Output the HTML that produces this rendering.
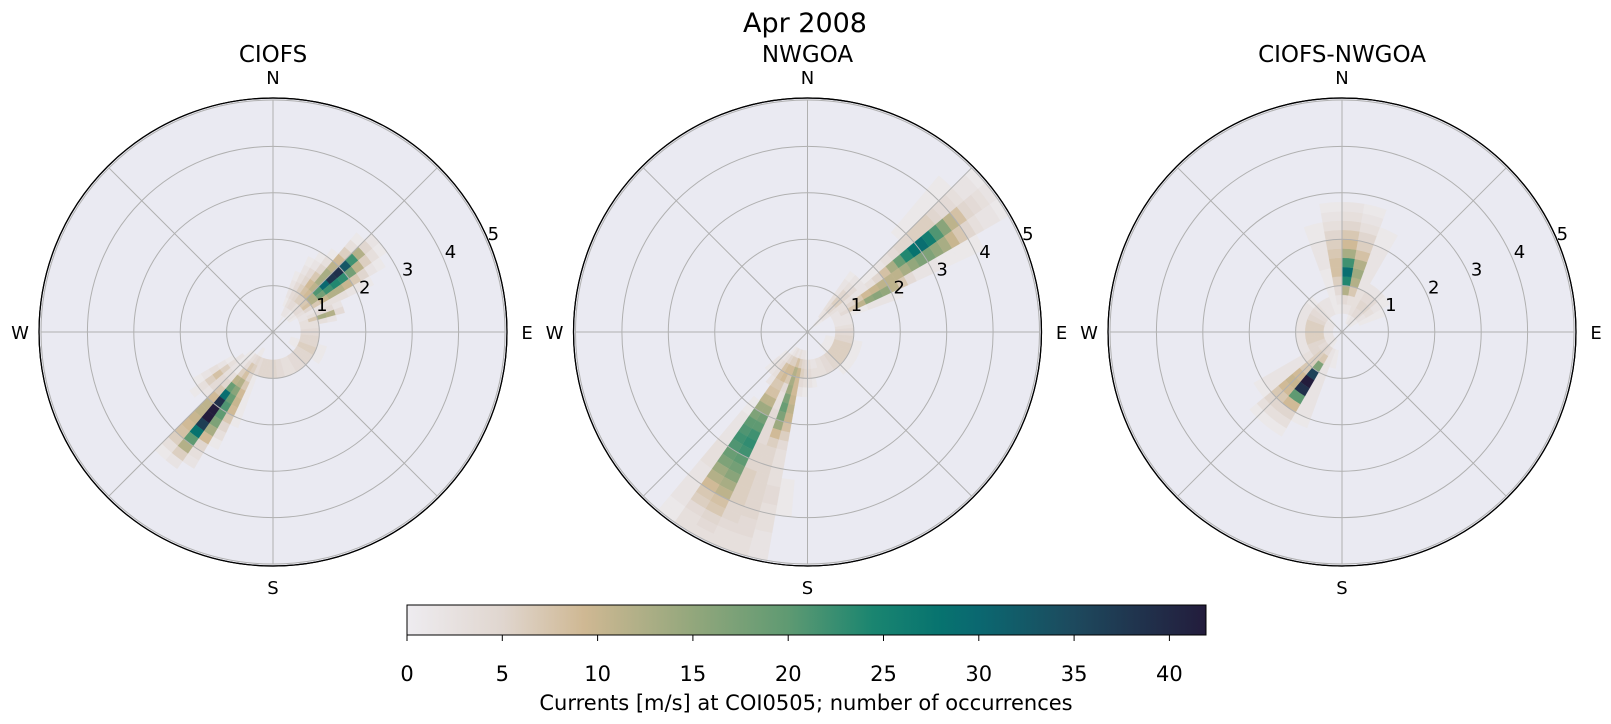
<!DOCTYPE html>
<html><head><meta charset="utf-8"><style>
html,body{margin:0;padding:0;background:#fff;}
svg{display:block;font-family:"DejaVu Sans","Liberation Sans",sans-serif;}
</style></head><body>
<svg id="s" width="1611" height="724" viewBox="0 0 1611 724" xmlns="http://www.w3.org/2000/svg">
<defs>
<linearGradient id="cb" x1="0" x2="1" y1="0" y2="0">
<stop offset="0" stop-color="#eeecf0"/>
<stop offset="0.119" stop-color="#e0d6cf"/>
<stop offset="0.222" stop-color="#cfb893"/>
<stop offset="0.357" stop-color="#93a77c"/>
<stop offset="0.476" stop-color="#5f9a72"/>
<stop offset="0.583" stop-color="#1a8570"/>
<stop offset="0.667" stop-color="#07736f"/>
<stop offset="0.714" stop-color="#0a6870"/>
<stop offset="0.833" stop-color="#1d4a5e"/>
<stop offset="1" stop-color="#231c3c"/>
</linearGradient>
</defs>
<text x="805" y="32" font-size="27" text-anchor="middle">Apr 2008</text>
<g id="plots"></g>
<rect x="407" y="605" width="799" height="30" fill="url(#cb)" stroke="#000" stroke-width="1"/>
<g id="cbt" font-size="21" text-anchor="middle"></g>
<text x="806" y="710" font-size="21" text-anchor="middle">Currents [m/s] at COI0505; number of occurrences</text>
</svg>
<script>
var NS="http://www.w3.org/2000/svg";
var stops=[[0,[238,236,240]],[5,[224,214,207]],[9.3,[207,184,147]],[15,[147,167,124]],[20,[95,154,114]],[24.5,[26,133,112]],[28,[7,115,111]],[30,[10,104,112]],[35,[29,74,94]],[42,[35,28,60]]];
function cmap(v){if(v>=42)v=42;for(var i=1;i<stops.length;i++){if(v<=stops[i][0]){var a=stops[i-1],b=stops[i],t=(v-a[0])/(b[0]-a[0]);return "rgb("+[0,1,2].map(function(k){return Math.round(a[1][k]+(b[1][k]-a[1][k])*t)}).join(",")+")";}}return "rgb(35,28,60)";}
var g=document.getElementById("plots");
function el(n,at,p,txt){var e=document.createElementNS(NS,n);for(var k in at)e.setAttribute(k,at[k]);if(txt!==undefined)e.textContent=txt;(p||g).appendChild(e);return e;}
var U=46.4;
function pt(cx,cy,a,r){var t=a*Math.PI/180;return [cx+r*Math.sin(t),cy-r*Math.cos(t)];}
function angd(a,b){var d=((a-b)%360+540)%360-180;return d;}
function plot(cx,cy,title,lobes,bw){
  el("text",{x:cx,y:62,"font-size":23,"text-anchor":"middle"},g,title);
  el("circle",{cx:cx,cy:cy,r:234,fill:"#eaeaf2",stroke:"#000","stroke-width":1.2});
  var cells=el("g",{});
  var gr=el("g",{stroke:"#b0b0b0","stroke-width":1,fill:"none"});
  for(var k=1;k<=5;k++)el("circle",{cx:cx,cy:cy,r:k*U},gr);
  for(var a=0;a<180;a+=45){var p1=pt(cx,cy,a,232),p2=pt(cx,cy,a+180,232);el("line",{x1:p1[0],y1:p1[1],x2:p2[0],y2:p2[1]},gr);}
  var dr=0.2;
  for(var a0=0;a0<360;a0+=bw){
    var ac=a0+bw/2;
    for(var r0=0;r0<5;r0+=dr){
      var rc=r0+dr/2,v=0;
      lobes.forEach(function(L){var da=angd(ac,L[0])/L[1],drr=(rc-L[2])/L[3];v+=L[4]*Math.exp(-0.5*(da*da+drr*drr));});
      if(v<0.9)continue;
      var q=Math.round(v);
      var r1=r0*U,r2=(r0+dr)*U,A=pt(cx,cy,a0,r1),B=pt(cx,cy,a0+bw,r1),C=pt(cx,cy,a0+bw,r2),D=pt(cx,cy,a0,r2);
      var d="M"+A+"L"+D+"A"+r2+","+r2+" 0 0 1 "+C+"L"+B+(r1>0?"A"+r1+","+r1+" 0 0 0 "+A:"")+"Z";
      el("path",{d:d,fill:cmap(q),stroke:cmap(q),"stroke-width":0.3},cells);
    }
  }
  el("circle",{cx:cx,cy:cy,r:234,fill:"none",stroke:"#000","stroke-width":1.2});
  var tg=el("g",{"font-size":18,"text-anchor":"middle"});
  el("text",{x:cx,y:84},tg,"N");el("text",{x:cx,y:594},tg,"S");
  el("text",{x:cx-253,y:339},tg,"W");el("text",{x:cx+254,y:339},tg,"E");
  for(var k=1;k<=5;k++){var p=pt(cx,cy,67.5,k*U);el("text",{x:p[0]+6,y:p[1]-3},tg,""+k);}
}
plot(273,332,"CIOFS",[
 [47.5,3,1.9,0.4,30],[53,5,1.6,0.5,18],[40,5,1.3,0.4,8],[72,3,1.2,0.2,14],[115,30,0.8,0.15,7],[30,6,1.0,0.4,4],
 [217.5,3,2.2,0.5,42],[211,4,1.7,0.5,14],[232,4,1.5,0.3,8],[190,20,0.8,0.15,6],[220,4,3.0,0.3,5]
],5);
plot(807.5,332,"NWGOA",[
 [54,3,3.0,0.55,28],[52,6,3.6,0.9,5],[61,3,1.7,0.45,18],[45,6,0.9,0.4,6],[120,30,0.8,0.15,8],
 [210,3,2.6,0.8,28],[208,7,3.8,1.0,5],[196,3,1.7,0.45,20],[196,5,3.6,1.0,4],[200,15,0.9,0.25,8]
],5);
plot(1342,332,"CIOFS-NWGOA",[
 [7,6,1.25,0.25,24],[5,11,1.7,0.55,9],[215,3,1.3,0.25,40],[220,8,1.5,0.5,12],
 [270,40,0.6,0.2,7],[40,15,0.7,0.3,5]
],10);
var cbt=document.getElementById("cbt");
for(var t=0;t<=40;t+=5){var x=407+t*19.06;el("line",{x1:x,y1:635,x2:x,y2:641,stroke:"#000"},cbt);el("text",{x:x,y:681},cbt,""+t);}
</script>
</body></html>
